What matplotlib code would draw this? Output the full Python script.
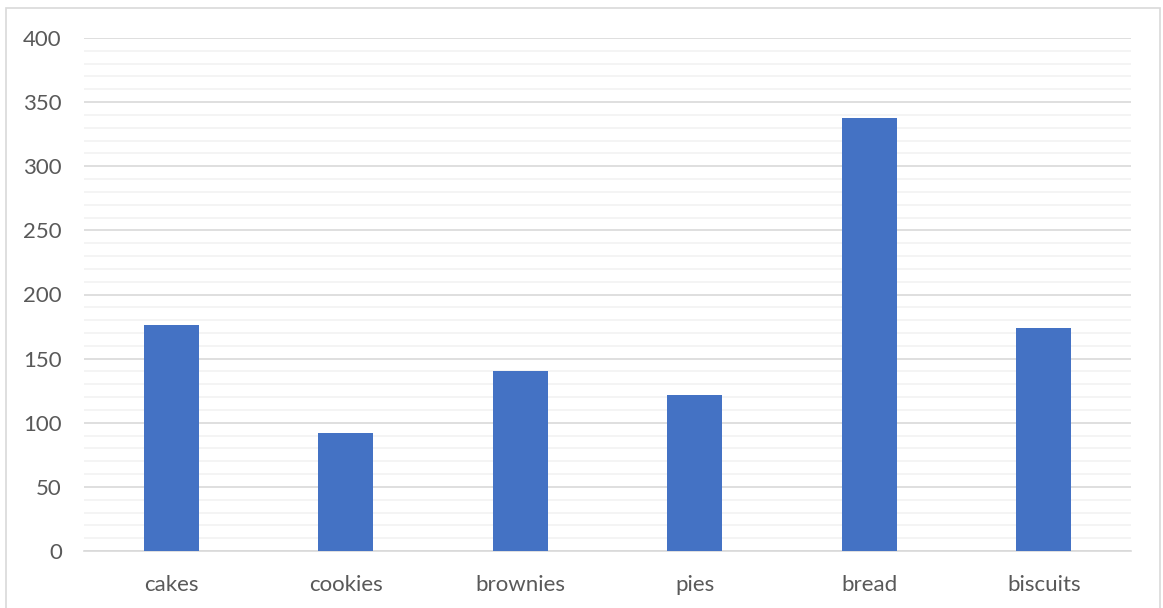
import matplotlib
matplotlib.use("Agg")
import matplotlib.pyplot as plt
from matplotlib.patches import Rectangle
from matplotlib.ticker import MultipleLocator

categories = ["cakes", "cookies", "brownies", "pies", "bread", "biscuits"]
values = [176, 92, 140, 122, 338, 174]
yticks = [0, 50, 100, 150, 200, 250, 300, 350, 400]

plt.rcParams['font.family'] = ['Lato', 'DejaVu Sans']
fig = plt.figure(figsize=(11.63, 6.08), dpi=100)
fig.patches.append(Rectangle((6/1163, -0.01), (1160-6)/1163, (608-8)/608 + 0.01,
                             transform=fig.transFigure, fill=False,
                             edgecolor="#d9d9d9", linewidth=1.2))
ax = fig.add_axes([84/1163, 57/608, (1131-84)/1163, (551-38)/608])
x = list(range(len(categories)))
ax.bar(x, values, width=0.315, color="#4472c4", zorder=3)
ax.set_xlim(-0.5, len(categories) - 0.5)
ax.set_ylim(0, 400)
ax.set_yticks(yticks)
ax.yaxis.set_minor_locator(MultipleLocator(10))
ax.grid(axis='y', which='major', color="#d9d9d9", linewidth=1.2, zorder=0)
ax.grid(axis='y', which='minor', color="#f2f2f2", linewidth=1.2, zorder=0)
ax.set_xticks(x)
ax.set_xticklabels(categories)
for s in ["top", "right", "left"]:
    ax.spines[s].set_visible(False)
ax.spines["bottom"].set_color("#d9d9d9")
ax.spines["bottom"].set_linewidth(1.2)
ax.tick_params(axis='both', which='both', length=0, labelsize=16, labelcolor="#595959")
ax.tick_params(axis='x', pad=17)
ax.tick_params(axis='y', pad=16)
fig.savefig("out.png", dpi=100)
